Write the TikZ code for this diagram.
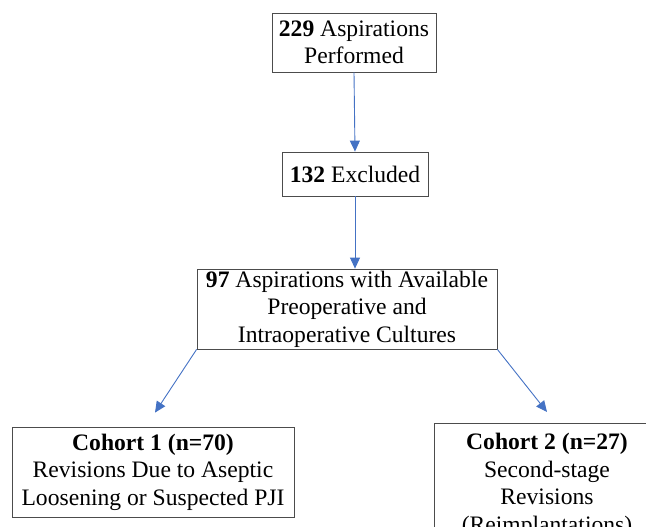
\documentclass[tikz,border=0pt]{standalone}
\usepackage{fontspec}
\setmainfont{Liberation Serif}
\usepackage{tikz}
\usetikzlibrary{arrows.meta}
\definecolor{flowblue}{HTML}{4472C4}

\begin{document}
\begin{tikzpicture}[x=1pt, y=-1pt,
    box/.style={draw=black!70, line width=0.8pt, align=center, inner sep=0pt,
      font=\fontsize{23.6}{27.5}\selectfont},
    link/.style={draw=flowblue, line width=0.9pt, -{Triangle[width=10pt, length=11pt]}}]
      \useasboundingbox (0, 0) rectangle (646, 527);
      \clip (0, 0) rectangle (646, 527);
      \node[box, minimum width=164pt, minimum height=59pt] (performed) at (354, 42.5) {\textbf{229} Aspirations\\Performed};
      \node[box, minimum width=146pt, minimum height=44pt] (excluded) at (355, 174) {\textbf{132} Excluded};
      \node[box, minimum width=300pt, minimum height=80pt] (cultures) at (347, 309) {\textbf{97} Aspirations with Available\\Preoperative and\\Intraoperative Cultures};
      \node[box, minimum width=282pt, minimum height=90pt] (cohortone) at (153, 472) {\textbf{Cohort 1 (n=70)}\\Revisions Due to Aseptic\\Loosening or Suspected PJI};
      \node[box, minimum width=226pt, inner ysep=10pt, anchor=north] (cohorttwo) at (547, 423) {\textbf{Cohort 2 (n=27)}\\Second-stage\\Revisions\\(Reimplantations)};
      \draw[link] (performed.south) -- (excluded.north);
      \draw[link] (excluded.south) -- (excluded.south |- cultures.north);
      \draw[link] (cultures.south west) -- ([xshift=2pt, yshift=14pt]cohortone.north);
      \draw[link] (cultures.south east) -- ([yshift=11pt]cohorttwo.north);
    \end{tikzpicture}
\end{document}
